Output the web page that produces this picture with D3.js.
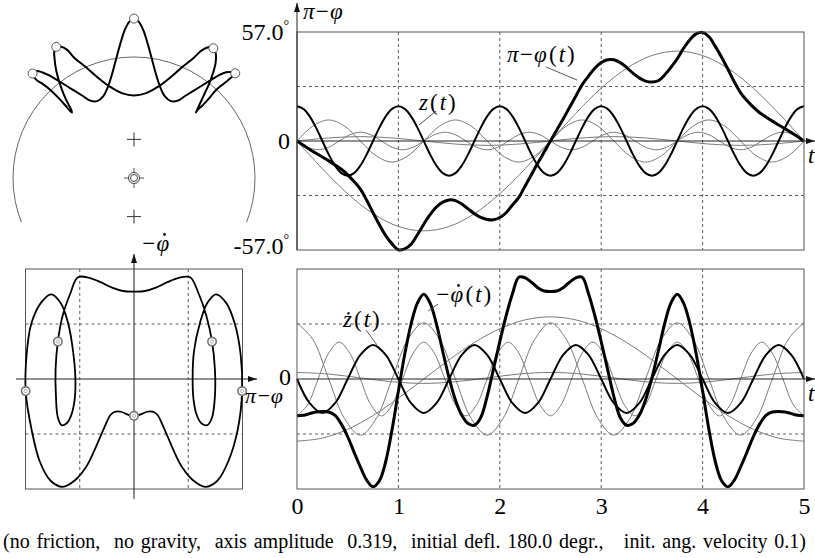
<!DOCTYPE html>
<html>
<head>
<meta charset="utf-8">
<script src="https://cdn.jsdelivr.net/npm/d3@7"></script>
<style>
  body { margin: 0; background: #fff; }
  svg { display: block; }
  text { font-family: "Liberation Serif", "Times New Roman", serif; fill: #000; }
  .it { font-style: italic; }
</style>
</head>
<body>
<div id="chart"></div>
<script>
// ---- data ----
// main series on t = 0 .. 5, step 1/16
const dtMain = 0.0625;
const piMinusPhi = [0, -2.2, -4.4, -6.4, -8.4, -10.4, -12.5, -14.8, -17.7, -21.2,
  -25.2, -31, -37.5, -43.8, -49.5, -53.8, -56.9, -56.4, -54, -49,
  -43.5, -38.5, -34.5, -32, -30.8, -31.2, -33, -35.5, -38, -40,
  -41, -41.2, -40, -37.5, -33.5, -29.5, -23.5, -17.5, -11.5, -5.8,
  0, 5.8, 11.5, 17.5, 23.5, 29.5, 34, 38, 41, 42.5,
  42.5, 41, 38.5, 35.5, 33, 31.3, 30.8, 31.5, 34.5, 38.5,
  43, 48.5, 53, 56, 56.8, 54.5, 49.5, 43.8, 37.5, 31,
  25.2, 21.2, 17.7, 14.8, 12.5, 10.4, 8.4, 6.4, 4.4, 2.2, 0];
const minusPhiDot = [-0.67, -0.66, -0.63, -0.6, -0.59, -0.6, -0.66, -0.82, -1.05, -1.33,
  -1.6, -1.84, -1.96, -1.85, -1.5, -0.92, -0.22, 0.45, 1.0, 1.38,
  1.54, 1.38, 1.0, 0.5, 0.02, -0.38, -0.66, -0.81, -0.84, -0.7,
  -0.32, 0.18, 0.68, 1.15, 1.55, 1.85, 1.84, 1.76, 1.66, 1.6,
  1.59, 1.6, 1.66, 1.76, 1.84, 1.85, 1.55, 1.15, 0.68, 0.18,
  -0.32, -0.7, -0.84, -0.81, -0.66, -0.38, 0.02, 0.5, 1.0, 1.38,
  1.54, 1.38, 1.0, 0.45, -0.22, -0.92, -1.5, -1.85, -1.96, -1.84,
  -1.6, -1.33, -1.05, -0.82, -0.66, -0.6, -0.59, -0.6, -0.63, -0.66, -0.67];
// pivot displacement z(t), shown in degree units (0.319 rad)
const zDeg = [18.2, 16.8, 12.9, 7.0, 0, -7.0, -12.9, -16.8, -18.2, -16.8, -12.9, -7.0, 0, 7.0, 12.9, 16.8,
  18.2, 16.8, 12.9, 7.0, 0, -7.0, -12.9, -16.8, -18.2, -16.8, -12.9, -7.0, 0, 7.0, 12.9, 16.8,
  18.2, 16.8, 12.9, 7.0, 0, -7.0, -12.9, -16.8, -18.2, -16.8, -12.9, -7.0, 0, 7.0, 12.9, 16.8,
  18.2, 16.8, 12.9, 7.0, 0, -7.0, -12.9, -16.8, -18.2, -16.8, -12.9, -7.0, 0, 7.0, 12.9, 16.8,
  18.2, 16.8, 12.9, 7.0, 0, -7.0, -12.9, -16.8, -18.2, -16.8, -12.9, -7.0, 0, 7.0, 12.9, 16.8, 18.2];
// z dot, step 1/8
const dtZDot = 0.125;
const zDot = [0, -0.44, -0.62, -0.44, 0, 0.44, 0.62, 0.44,
  0, -0.44, -0.62, -0.44, 0, 0.44, 0.62, 0.44,
  0, -0.44, -0.62, -0.44, 0, 0.44, 0.62, 0.44,
  0, -0.44, -0.62, -0.44, 0, 0.44, 0.62, 0.44,
  0, -0.44, -0.62, -0.44, 0, 0.44, 0.62, 0.44, 0];

// thin component curves (angle, degrees) and their rates
const dtSlow = 0.25;
const slowAngle = [0, -14.5, -27.6, -38, -44.7, -47, -44.7, -38, -27.6, -14.5,
  0, 14.5, 27.6, 38, 44.7, 47, 44.7, 38, 27.6, 14.5, 0];
const slowRate = [-1.13, -1.075, -0.914, -0.664, -0.349, 0, 0.349, 0.664, 0.914, 1.075,
  1.13, 1.075, 0.914, 0.664, 0.349, 0, -0.349, -0.664, -0.914, -1.075, -1.13];
const dtH2 = 0.3125;
const harm2Angle = [0, 1.6, 2.3, 1.6, 0, -1.6, -2.3, -1.6, 0, 1.6, 2.3, 1.6, 0, -1.6, -2.3, -1.6, 0];
const harm2Rate = [0.12, 0.09, 0.02, -0.05, -0.08, -0.05, 0.02, 0.09, 0.12, 0.09, 0.02, -0.05, -0.08, -0.05, 0.02, 0.09, 0.12];
const dtH4 = 0.15625;
const harm4Angle = [0, 7.8, 11, 7.8, 0, -7.8, -11, -7.8, 0, 7.8, 11, 7.8, 0, -7.8, -11, -7.8,
  0, 7.8, 11, 7.8, 0, -7.8, -11, -7.8, 0, 7.8, 11, 7.8, 0, -7.8, -11, -7.8, 0];
const harm4Rate = [1.02, 0.72, 0, -0.72, -1.02, -0.72, 0, 0.72, 1.02, 0.72, 0, -0.72, -1.02, -0.72, 0, 0.72,
  1.02, 0.72, 0, -0.72, -1.02, -0.72, 0, 0.72, 1.02, 0.72, 0, -0.72, -1.02, -0.72, 0, 0.72, 1.02];
const dtH6 = 5 / 48;
const harm6Angle = [0, -3.25, -4.6, -3.25, 0, 3.25, 4.6, 3.25, 0, -3.25, -4.6, -3.25, 0, 3.25, 4.6, 3.25,
  0, -3.25, -4.6, -3.25, 0, 3.25, 4.6, 3.25, 0, -3.25, -4.6, -3.25, 0, 3.25, 4.6, 3.25,
  0, -3.25, -4.6, -3.25, 0, 3.25, 4.6, 3.25, 0, -3.25, -4.6, -3.25, 0, 3.25, 4.6, 3.25, 0];
const harm6Rate = [-0.67, -0.47, 0, 0.47, 0.67, 0.47, 0, -0.47, -0.67, -0.47, 0, 0.47, 0.67, 0.47, 0, -0.47,
  -0.67, -0.47, 0, 0.47, 0.67, 0.47, 0, -0.47, -0.67, -0.47, 0, 0.47, 0.67, 0.47, 0, -0.47,
  -0.67, -0.47, 0, 0.47, 0.67, 0.47, 0, -0.47, -0.67, -0.47, 0, 0.47, 0.67, 0.47, 0, -0.47, -0.67];

const timeTicks = [0, 1, 2, 3, 4, 5];
const markTimes = [0, 1, 2, 3, 4];
const angleMax = 57;
const axisAmp = 0.319;
const footer = "(no friction,  no gravity,  axis amplitude  0.319,  initial defl. 180.0 degr.,   init. ang. velocity 0.1)";

// ---- svg ----
const width = 815, height = 558;
const svg = d3.select("#chart").append("svg")
    .attr("width", width)
    .attr("height", height)
    .attr("font-family", "Liberation Serif, serif");

const xT = d3.scaleLinear().domain([0, 5]).range([297, 804]);
const yTop = d3.scaleLinear().domain([-angleMax, angleMax]).range([250, 32]);
const yBot = d3.scaleLinear().domain([-2, 2]).range([489, 269]);
const xPh = d3.scaleLinear().domain([-angleMax, angleMax]).range([25.5, 242.5]);
const xPend = d3.scaleLinear().domain([-1, 1]).range([13, 255]);
const yPend = d3.scaleLinear().domain([-1, 1]).range([299, 57]);

const asPoints = (vals, step) => vals.map((v, i) => [i * step, v]);
const smooth = d3.curveCatmullRom.alpha(0.5);

function drawSeries(g, vals, step, y, w, color) {
  g.append("path")
      .datum(asPoints(vals, step))
      .attr("fill", "none")
      .attr("stroke", color)
      .attr("stroke-width", w)
      .attr("stroke-linejoin", "round")
      .attr("d", d3.line().x(d => xT(d[0])).y(d => y(d[1])).curve(smooth));
}

function arrow(g, x1, y1, x2, y2) {
  g.append("line").attr("x1", x1).attr("y1", y1).attr("x2", x2).attr("y2", y2)
      .attr("stroke", "#222").attr("stroke-width", 1);
  const a = Math.atan2(y2 - y1, x2 - x1), L = 9, w = 3;
  const p = [[x2, y2],
    [x2 - L * Math.cos(a) + w * Math.sin(a), y2 - L * Math.sin(a) - w * Math.cos(a)],
    [x2 - L * Math.cos(a) - w * Math.sin(a), y2 - L * Math.sin(a) + w * Math.cos(a)]];
  g.append("path").attr("d", "M" + p.join("L") + "Z").attr("fill", "#111");
}

function grid(g, xs, ys, xScale, yScale, x0, x1, y0, y1) {
  xs.forEach(v => g.append("line").attr("x1", xScale(v)).attr("x2", xScale(v))
      .attr("y1", y0).attr("y2", y1));
  ys.forEach(v => g.append("line").attr("y1", yScale(v)).attr("y2", yScale(v))
      .attr("x1", x0).attr("x2", x1));
  g.attr("stroke", "#333").attr("stroke-width", 0.8).attr("stroke-dasharray", "3,3");
}

// ---- top right: angle vs time ----
const topG = svg.append("g");
grid(topG.append("g"), [1, 2, 3, 4], [-angleMax / 2, angleMax / 2], xT, yTop, xT(0), xT(5), yTop(angleMax), yTop(-angleMax));
[slowAngle, harm2Angle, harm4Angle, harm6Angle].forEach((vals, k) =>
  drawSeries(topG, vals, [dtSlow, dtH2, dtH4, dtH6][k], yTop, 1, "#7a7a7a"));
arrow(topG, xT(0), yTop(0), 815, yTop(0));
drawSeries(topG, zDeg, dtMain, yTop, 2, "#000");
drawSeries(topG, piMinusPhi, dtMain, yTop, 3, "#000");
topG.append("rect").attr("x", xT(0)).attr("y", yTop(angleMax))
    .attr("width", xT(5) - xT(0)).attr("height", yTop(-angleMax) - yTop(angleMax))
    .attr("fill", "none").attr("stroke", "#555");
arrow(topG, xT(0), yTop(-angleMax), xT(0), 3);

// ---- bottom right: angular velocity vs time ----
const botG = svg.append("g");
grid(botG.append("g"), [1, 2, 3, 4], [-1, 1], xT, yBot, xT(0), xT(5), yBot(2), yBot(-2));
[slowRate, harm2Rate, harm4Rate, harm6Rate].forEach((vals, k) =>
  drawSeries(botG, vals, [dtSlow, dtH2, dtH4, dtH6][k], yBot, 1, "#7a7a7a"));
arrow(botG, xT(0), yBot(0), 815, yBot(0));
drawSeries(botG, zDot, dtZDot, yBot, 2, "#000");
drawSeries(botG, minusPhiDot, dtMain, yBot, 3, "#000");
botG.append("rect").attr("x", xT(0)).attr("y", yBot(2))
    .attr("width", xT(5) - xT(0)).attr("height", yBot(-2) - yBot(2))
    .attr("fill", "none").attr("stroke", "#555");

const xAxis = svg.append("g")
    .attr("transform", `translate(0,${yBot(-2)})`)
    .call(d3.axisBottom(xT).tickValues(timeTicks).tickFormat(d3.format("d")).tickSize(0).tickPadding(8));
xAxis.attr("font-family", null).attr("font-size", null);
xAxis.select(".domain").remove();
xAxis.selectAll("text").attr("font-size", 24);

// ---- phase plane ----
const ph = svg.append("g");
grid(ph.append("g"), [-angleMax / 2, angleMax / 2], [-1, 1], xPh, yBot, xPh(-angleMax), xPh(angleMax), yBot(2), yBot(-2));
ph.append("rect").attr("x", xPh(-angleMax)).attr("y", yBot(2))
    .attr("width", xPh(angleMax) - xPh(-angleMax)).attr("height", yBot(-2) - yBot(2))
    .attr("fill", "none").attr("stroke", "#555");
arrow(ph, 16, yBot(0), 257, yBot(0));
arrow(ph, xPh(0), 499, xPh(0), 254);
ph.append("path")
    .datum(piMinusPhi.map((a, i) => [a, minusPhiDot[i]]))
    .attr("fill", "none").attr("stroke", "#000").attr("stroke-width", 1.8)
    .attr("d", d3.line().x(d => xPh(d[0])).y(d => yBot(d[1])).curve(smooth));
markTimes.forEach(t => {
  const i = Math.round(t / dtMain);
  const cx = xPh(piMinusPhi[i]), cy = yBot(minusPhiDot[i]);
  ph.append("circle").attr("cx", cx).attr("cy", cy).attr("r", 4.2)
      .attr("fill", "#fff").attr("stroke", "#777").attr("stroke-width", 1.6);
  ph.append("circle").attr("cx", cx).attr("cy", cy).attr("r", 1.6)
      .attr("fill", "none").attr("stroke", "#999").attr("stroke-width", 0.8);
});

// ---- pendulum picture ----
const pend = svg.append("g");
svg.append("clipPath").attr("id", "arcClip")
  .append("rect").attr("x", 0).attr("y", 0).attr("width", 270).attr("height", 222);
pend.append("circle").attr("cx", xPend(0)).attr("cy", yPend(0))
    .attr("r", xPend(1) - xPend(0))
    .attr("fill", "none").attr("stroke", "#666").attr("stroke-width", 1)
    .attr("clip-path", "url(#arcClip)");
[axisAmp, -axisAmp].forEach(z => {
  const cx = xPend(0), cy = yPend(z);
  pend.append("path").attr("d", `M${cx - 7},${cy}H${cx + 7}M${cx},${cy - 7}V${cy + 7}`)
      .attr("stroke", "#333").attr("stroke-width", 1);
});
{
  const cx = xPend(0), cy = yPend(0);
  pend.append("path").attr("d", `M${cx - 10},${cy}H${cx - 5}M${cx + 5},${cy}H${cx + 10}M${cx},${cy - 10}V${cy - 5}M${cx},${cy + 5}V${cy + 10}`)
      .attr("stroke", "#555").attr("stroke-width", 1);
  pend.append("circle").attr("cx", cx).attr("cy", cy).attr("r", 5.5)
      .attr("fill", "none").attr("stroke", "#444");
  pend.append("circle").attr("cx", cx).attr("cy", cy).attr("r", 3.5)
      .attr("fill", "none").attr("stroke", "#444");
}
const bob = piMinusPhi.map((a, i) => {
  const th = a * Math.PI / 180, z = zDeg[i] * Math.PI / 180;
  return [Math.sin(th), z + Math.cos(th)];
});
pend.append("path").datum(bob)
    .attr("fill", "none").attr("stroke", "#000").attr("stroke-width", 2)
    .attr("d", d3.line().x(d => xPend(d[0])).y(d => yPend(d[1])).curve(smooth));
markTimes.forEach(t => {
  const d = bob[Math.round(t / dtMain)];
  pend.append("circle").attr("cx", xPend(d[0])).attr("cy", yPend(d[1])).attr("r", 4.5)
      .attr("fill", "#fff").attr("stroke", "#555").attr("stroke-width", 1);
});

// ---- texts ----
function degLabel(v, y) {
  const t = svg.append("text").attr("x", 289).attr("y", y).attr("dy", "0.35em")
      .attr("text-anchor", "end").attr("font-size", 24);
  t.append("tspan").text(v);
  t.append("tspan").attr("font-size", 14).attr("dy", "-0.75em").text("°");
}
degLabel(angleMax.toFixed(1), yTop(angleMax));
degLabel((-angleMax).toFixed(1), yTop(-angleMax) - 4);
svg.append("text").attr("x", 290).attr("y", yTop(0)).attr("dy", "0.35em")
    .attr("text-anchor", "end").attr("font-size", 24).text("0");
svg.append("text").attr("x", 291).attr("y", yBot(0) - 2).attr("dy", "0.35em")
    .attr("text-anchor", "end").attr("font-size", 24).text("0");

// time-derivative dot over the last glyph of a text
function dotOver(textSel) {
  const b = textSel.node().getBBox();
  const base = +textSel.attr("y");
  svg.append("circle").attr("cx", b.x + b.width - 5).attr("cy", base - 16.5)
      .attr("r", 1.4).attr("fill", "#000");
}
function fnLabel(x, y, name, dotted) {
  const head = svg.append("text").attr("class", "it").attr("x", x).attr("y", y)
      .attr("font-size", 23).text(name);
  if (dotted) dotOver(head);
  const end = head.node().getBBox();
  const t = svg.append("text").attr("x", end.x + end.width + 2).attr("y", y).attr("font-size", 23);
  t.append("tspan").text("(");
  t.append("tspan").attr("class", "it").attr("dx", 2).text("t");
  t.append("tspan").attr("dx", 2).text(")");
}
fnLabel(507, 62, "π−φ", false);
fnLabel(419, 110, "z", false);
fnLabel(435, 302, "−φ", true);
fnLabel(343, 327, "ż", false);

const leaders = [[546, 67, 577, 80], [436, 111, 419, 125], [438, 304, 428, 311], [366, 330, 377, 345]];
leaders.forEach(l => svg.append("line").attr("x1", l[0]).attr("y1", l[1]).attr("x2", l[2]).attr("y2", l[3])
    .attr("stroke", "#444").attr("stroke-width", 0.9));

svg.append("text").attr("class", "it").attr("x", 303).attr("y", 19).attr("font-size", 23).text("π−φ");
dotOver(svg.append("text").attr("class", "it").attr("x", 141).attr("y", 251).attr("font-size", 23).text("−φ"));
svg.append("text").attr("class", "it").attr("x", 245).attr("y", 403).attr("font-size", 22).text("π−φ");
svg.append("text").attr("class", "it").attr("x", 808).attr("y", 163).attr("font-size", 23).text("t");
svg.append("text").attr("class", "it").attr("x", 808).attr("y", 401).attr("font-size", 23).text("t");

svg.append("text").attr("x", 3).attr("y", 548).attr("font-size", 20)
    .attr("word-spacing", 1.8)
    .style("white-space", "pre").text(footer);
</script>
</body>
</html>
